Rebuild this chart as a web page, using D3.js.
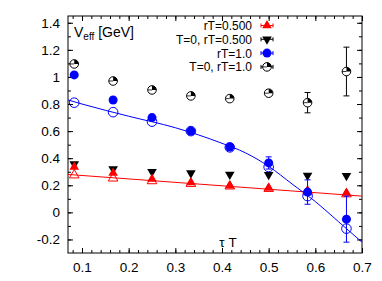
<!DOCTYPE html>
<html>
<head>
<meta charset="utf-8">
<script src="https://cdn.jsdelivr.net/npm/d3@7"></script>
<style>
  body { margin: 0; background: #fff; }
  svg { font-family: "Liberation Sans", Arial, sans-serif; }
</style>
</head>
<body>
<svg id="chart" width="382" height="281"></svg>
<script>
// tau*T values shared by all series
let tauT = [1/12, 2/12, 3/12, 4/12, 5/12, 6/12, 7/12, 8/12];

// rT = 0.500
let red = [0.335, 0.29, 0.246, 0.22, 0.197, 0.18, 0.152, 0.143];
let redOpen = [0.275, 0.252, 0.232, 0.212, 0.193, 0.175, 0.155, 0.135];
// T=0, rT=0.500
let black = [0.357, 0.32, 0.30, 0.29, 0.28, 0.278, 0.272, 0.27];
// rT = 1.0
let blue = [1.015, 0.83, 0.70, 0.60, 0.483, 0.365, 0.15, -0.05];
let blueErr = [0, 0, 0, 0, 0, 0.045, 0.09, 0.17];
let blueOpen = [0.81, 0.74, 0.67, 0.60, 0.48, 0.335, 0.12, -0.12];
// T=0, rT=1.0
let pie = [1.096, 0.97, 0.904, 0.86, 0.84, 0.88, 0.81, 1.04];
let pieErr = [0, 0, 0, 0, 0, 0, 0.075, 0.18];

// fit lines
let redFitX = [0.07, 0.7];
let redFitY = [0.28, 0.12];
let blueFitX = [0.07, 0.1, 0.2, 0.3, 0.4, 0.45, 0.5, 0.55, 0.6, 0.65, 0.7];
let blueFitY = [0.83, 0.80, 0.71, 0.625, 0.51, 0.44, 0.34, 0.21, 0.08, -0.07, -0.22];

let xMajor = [0.1, 0.2, 0.3, 0.4, 0.5, 0.6, 0.7];
let xMinor = d3.range(4, 36).map(i => i * 0.02);
let yMajor = [-0.2, 0, 0.2, 0.4, 0.6, 0.8, 1, 1.2, 1.4];
let yMinor = d3.range(-2, 15).map(i => i / 10);

let legendLabels = ['rT=0.500', 'T=0, rT=0.500', 'rT=1.0', 'T=0, rT=1.0'];

let svg = d3.select('#chart');
let m = {l: 68, r: 362, t: 16, b: 253};

let x = d3.scaleLinear().domain([0.07, 0.7]).range([m.l, m.r]);
let y = d3.scaleLinear().domain([-0.3, 1.45]).range([m.b, m.t]);

// axes (gnuplot style, ticks inward on all four sides)
function styleAxis(g) {
  g.select('.domain').remove();
  g.selectAll('line').attr('stroke', '#000');
  g.selectAll('text').attr('font-size', '13.5px').attr('fill', '#000');
}

svg.append('g').attr('transform', `translate(0,${m.b})`)
  .call(d3.axisBottom(x).tickValues(xMajor).tickSize(-5).tickPadding(9).tickFormat(d => d))
  .call(styleAxis);
svg.append('g').attr('transform', `translate(0,${m.b})`)
  .call(d3.axisBottom(x).tickValues(xMinor).tickSize(-3).tickFormat(''))
  .call(styleAxis);
svg.append('g').attr('transform', `translate(0,${m.t})`)
  .call(d3.axisTop(x).tickValues(xMajor).tickSize(-5).tickFormat(''))
  .call(styleAxis);
svg.append('g').attr('transform', `translate(0,${m.t})`)
  .call(d3.axisTop(x).tickValues(xMinor).tickSize(-3).tickFormat(''))
  .call(styleAxis);

svg.append('g').attr('transform', `translate(${m.l},0)`)
  .call(d3.axisLeft(y).tickValues(yMajor).tickSize(-5).tickPadding(8).tickFormat(d => d))
  .call(styleAxis);
svg.append('g').attr('transform', `translate(${m.l},0)`)
  .call(d3.axisLeft(y).tickValues(yMinor).tickSize(-3).tickFormat(''))
  .call(styleAxis);
svg.append('g').attr('transform', `translate(${m.r},0)`)
  .call(d3.axisRight(y).tickValues(yMajor).tickSize(-5).tickFormat(''))
  .call(styleAxis);
svg.append('g').attr('transform', `translate(${m.r},0)`)
  .call(d3.axisRight(y).tickValues(yMinor).tickSize(-3).tickFormat(''))
  .call(styleAxis);

svg.append('rect')
  .attr('x', m.l).attr('y', m.t)
  .attr('width', m.r - m.l).attr('height', m.b - m.t)
  .attr('fill', 'none').attr('stroke', '#000');

// axis labels
let vLabel = svg.append('text').attr('x', 74).attr('y', 37).attr('font-size', '14px');
vLabel.append('tspan').text('V');
vLabel.append('tspan').attr('font-size', '10px').attr('dy', 3).text('eff');
vLabel.append('tspan').attr('dy', -3).text(' [GeV]');

svg.append('text').attr('x', 228).attr('y', 247)
  .attr('text-anchor', 'middle').attr('font-size', '13.5px').text('τ T');

// fit lines
let line = d3.line().x(d => x(d[0])).y(d => y(d[1]));
let plot = svg.append('g');

plot.append('path')
  .datum(d3.zip(redFitX, redFitY))
  .attr('d', line)
  .attr('fill', 'none').attr('stroke', '#ff0000').attr('stroke-width', 1);

plot.append('path')
  .datum(d3.zip(blueFitX, blueFitY))
  .attr('d', line.curve(d3.curveMonotoneX))
  .attr('fill', 'none').attr('stroke', '#0000ff').attr('stroke-width', 1);

let triUp = d3.symbol().type(d3.symbolTriangle).size(40);

function errBars(vals, errs, color) {
  let data = d3.zip(tauT, vals, errs).filter(d => d[2] > 0);
  let g = plot.append('g').attr('stroke', color).attr('stroke-width', 1);
  g.selectAll('line.v').data(data).enter().append('line')
    .attr('x1', d => x(d[0])).attr('x2', d => x(d[0]))
    .attr('y1', d => y(d[1] - d[2])).attr('y2', d => y(d[1] + d[2]));
  g.selectAll('line.t').data(data).enter().append('line')
    .attr('x1', d => x(d[0]) - 3).attr('x2', d => x(d[0]) + 3)
    .attr('y1', d => y(d[1] + d[2])).attr('y2', d => y(d[1] + d[2]));
  g.selectAll('line.b').data(data).enter().append('line')
    .attr('x1', d => x(d[0]) - 3).attr('x2', d => x(d[0]) + 3)
    .attr('y1', d => y(d[1] - d[2])).attr('y2', d => y(d[1] - d[2]));
}

// open markers on the fits
plot.selectAll('path.ro').data(d3.zip(tauT, redOpen)).enter().append('path')
  .attr('d', triUp)
  .attr('transform', d => `translate(${x(d[0])},${y(d[1])})`)
  .attr('fill', 'none').attr('stroke', '#ff0000').attr('stroke-width', 1);

plot.selectAll('circle.bo').data(d3.zip(tauT, blueOpen)).enter().append('circle')
  .attr('cx', d => x(d[0])).attr('cy', d => y(d[1])).attr('r', 4.8)
  .attr('fill', 'none').attr('stroke', '#0000ff').attr('stroke-width', 1);

// T=0, rT=0.500
function drawBlackTri(sel) {
  sel.attr('d', triUp).attr('fill', '#000');
}
plot.selectAll('path.bk').data(d3.zip(tauT, black)).enter().append('path')
  .attr('transform', d => `translate(${x(d[0])},${y(d[1])}) rotate(180)`)
  .call(drawBlackTri);

// rT=0.500
plot.selectAll('path.rd').data(d3.zip(tauT, red)).enter().append('path')
  .attr('d', triUp)
  .attr('transform', d => `translate(${x(d[0])},${y(d[1])})`)
  .attr('fill', '#ff0000');

// rT=1.0
errBars(blue, blueErr, '#0000ff');
plot.selectAll('circle.bl').data(d3.zip(tauT, blue)).enter().append('circle')
  .attr('cx', d => x(d[0])).attr('cy', d => y(d[1])).attr('r', 4.5)
  .attr('fill', '#0000ff');

// T=0, rT=1.0
let quarter = d3.arc().innerRadius(0).outerRadius(4.3).startAngle(0).endAngle(Math.PI / 2);
function drawPie(g) {
  g.append('circle').attr('r', 4.3).attr('fill', '#fff').attr('stroke', '#000').attr('stroke-width', 1);
  g.append('path').attr('d', quarter()).attr('fill', '#000');
  g.append('line').attr('x1', -4.3).attr('x2', 0).attr('y1', 0).attr('y2', 0)
    .attr('stroke', '#000').attr('stroke-width', 0.8);
}
errBars(pie, pieErr, '#000');
plot.selectAll('g.pie').data(d3.zip(tauT, pie)).enter().append('g')
  .attr('transform', d => `translate(${x(d[0])},${y(d[1])})`)
  .each(function() { drawPie(d3.select(this)); });

// legend
let legend = svg.append('g');
let legendColors = ['#ff0000', '#000', '#0000ff', '#000'];
legendLabels.forEach((name, i) => {
  let ly = 25.5 + i * 13.8;
  legend.append('text')
    .attr('x', 252).attr('y', ly + 4.5)
    .attr('text-anchor', 'end').attr('font-size', '12px')
    .text(name);
  let lg = legend.append('g').attr('transform', `translate(267,${ly})`);
  lg.append('line').attr('x1', -6).attr('x2', 6).attr('stroke', legendColors[i]);
  lg.append('line').attr('x1', -6).attr('x2', -6).attr('y1', -2).attr('y2', 2).attr('stroke', legendColors[i]);
  lg.append('line').attr('x1', 6).attr('x2', 6).attr('y1', -2).attr('y2', 2).attr('stroke', legendColors[i]);
  if (i === 0) {
    lg.append('path').attr('d', triUp).attr('fill', '#ff0000');
  } else if (i === 1) {
    lg.append('path').attr('transform', 'rotate(180)').call(drawBlackTri);
  } else if (i === 2) {
    lg.append('circle').attr('r', 4.5).attr('fill', '#0000ff');
  } else {
    drawPie(lg);
  }
});
</script>
</body>
</html>
